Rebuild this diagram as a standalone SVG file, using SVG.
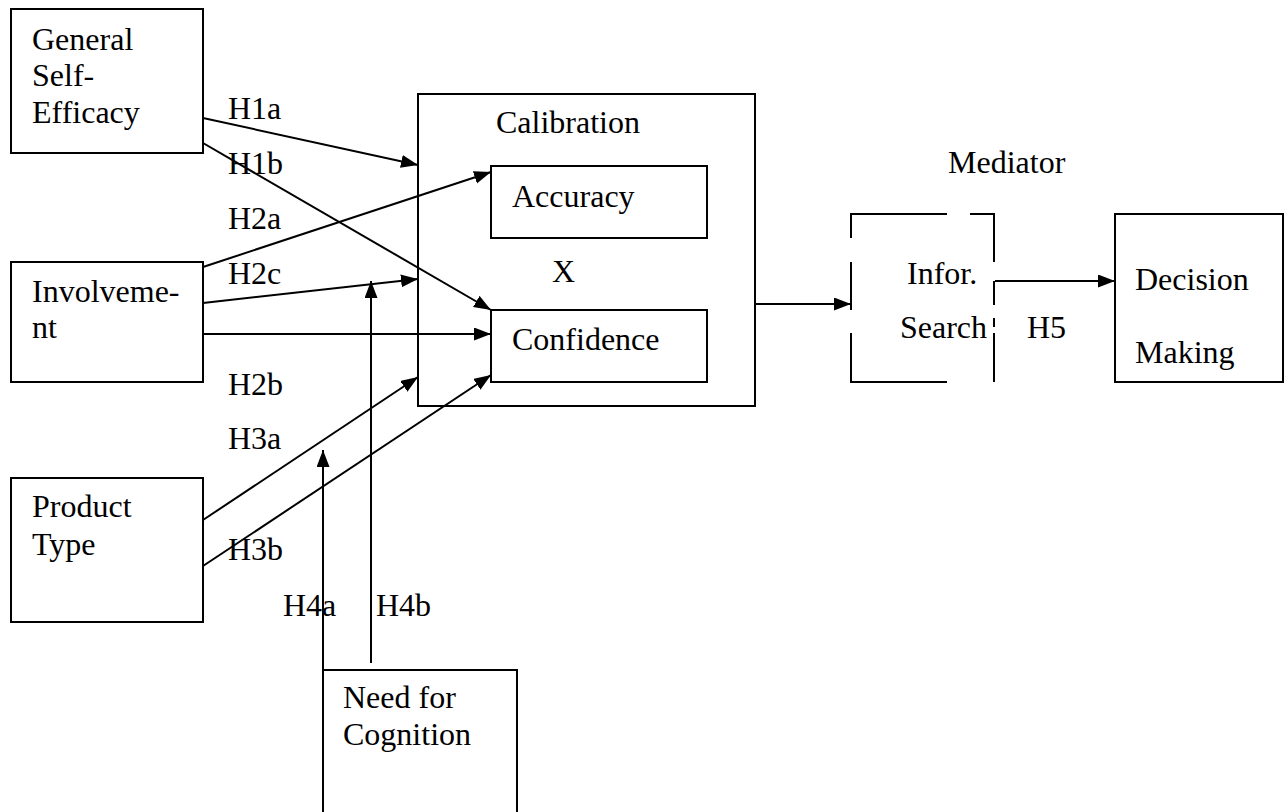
<svg xmlns="http://www.w3.org/2000/svg" width="1287" height="812" viewBox="0 0 1287 812">
<style>
  .box { fill: none; stroke: #000; stroke-width: 2; }
  .t { font-family: 'Liberation Serif', 'Times New Roman', Times, 'DejaVu Serif', serif; font-size: 32px; fill: #000; }
  .c { fill: none; stroke: #000; stroke-width: 2; }
  .a { marker-end: url(#arr); }
</style>
<defs>
  <marker id="arr" markerUnits="userSpaceOnUse" markerWidth="18" markerHeight="14" refX="17" refY="6.5" orient="auto">
    <path d="M0,0 L17,6.5 L0,13 z" fill="#000"/>
  </marker>
</defs>
<rect width="1287" height="812" fill="#fff"/>

<g id="connectors">
  <line class="c a" x1="203" y1="118" x2="418" y2="165"/>
  <line class="c a" x1="203" y1="143" x2="491" y2="310"/>
  <line class="c a" x1="203" y1="267" x2="491" y2="172"/>
  <line class="c a" x1="203" y1="303" x2="418" y2="279"/>
  <line class="c a" x1="203" y1="334" x2="491" y2="334"/>
  <line class="c a" x1="203" y1="520" x2="418" y2="377"/>
  <line class="c a" x1="203" y1="566" x2="491" y2="375"/>
  <line class="c a" x1="323" y1="812" x2="323" y2="450"/>
  <line class="c a" x1="371" y1="663" x2="371" y2="281"/>
  <line class="c a" x1="755" y1="304" x2="851" y2="304"/>
  <line class="c a" x1="995" y1="281" x2="1115" y2="281"/>
</g>

<g id="general-self-efficacy">
  <rect class="box" x="11" y="9" width="192" height="144"/>
  <text class="t" x="32" y="50">General</text>
  <text class="t" x="32" y="86">Self-</text>
  <text class="t" x="32" y="123">Efficacy</text>
</g>

<g id="involvement">
  <rect class="box" x="11" y="262" width="192" height="120"/>
  <text class="t" x="32" y="302">Involveme-</text>
  <text class="t" x="32" y="338">nt</text>
</g>

<g id="product-type">
  <rect class="box" x="11" y="478" width="192" height="144"/>
  <text class="t" x="32" y="517">Product</text>
  <text class="t" x="32" y="555">Type</text>
</g>

<g id="calibration">
  <rect class="box" x="418" y="94" width="337" height="312"/>
  <text class="t" x="496" y="133">Calibration</text>
  <text class="t" x="552" y="282">X</text>
</g>

<g id="accuracy">
  <rect class="box" x="491" y="166" width="216" height="72"/>
  <text class="t" x="512" y="207">Accuracy</text>
</g>

<g id="confidence">
  <rect class="box" x="491" y="310" width="216" height="72"/>
  <text class="t" x="512" y="350">Confidence</text>
</g>

<g id="need-for-cognition">
  <rect class="box" x="323" y="670" width="194" height="160"/>
  <text class="t" x="343" y="708">Need for</text>
  <text class="t" x="343" y="745">Cognition</text>
</g>

<g id="infor-search">
  <text class="t" x="948" y="173">Mediator</text>
  <path class="box" d="M851,238 V214 H947 M970,214 H994 V262 M994,281 V305 M994,318 V327 M994,333 V382 M851,262 V310 M851,333 V382 H947"/>
  <text class="t" x="907" y="284">Infor.</text>
  <text class="t" x="900" y="338">Search</text>
</g>

<g id="decision-making">
  <rect class="box" x="1115" y="214" width="168" height="168"/>
  <text class="t" x="1135" y="290">Decision</text>
  <text class="t" x="1135" y="363">Making</text>
</g>

<g id="labels">
  <text class="t" x="228" y="119">H1a</text>
  <text class="t" x="228" y="174">H1b</text>
  <text class="t" x="228" y="229">H2a</text>
  <text class="t" x="228" y="284">H2c</text>
  <text class="t" x="228" y="395">H2b</text>
  <text class="t" x="228" y="449">H3a</text>
  <text class="t" x="228" y="560">H3b</text>
  <text class="t" x="283" y="616">H4a</text>
  <text class="t" x="376" y="616">H4b</text>
  <text class="t" x="1027" y="338">H5</text>
</g>
</svg>
